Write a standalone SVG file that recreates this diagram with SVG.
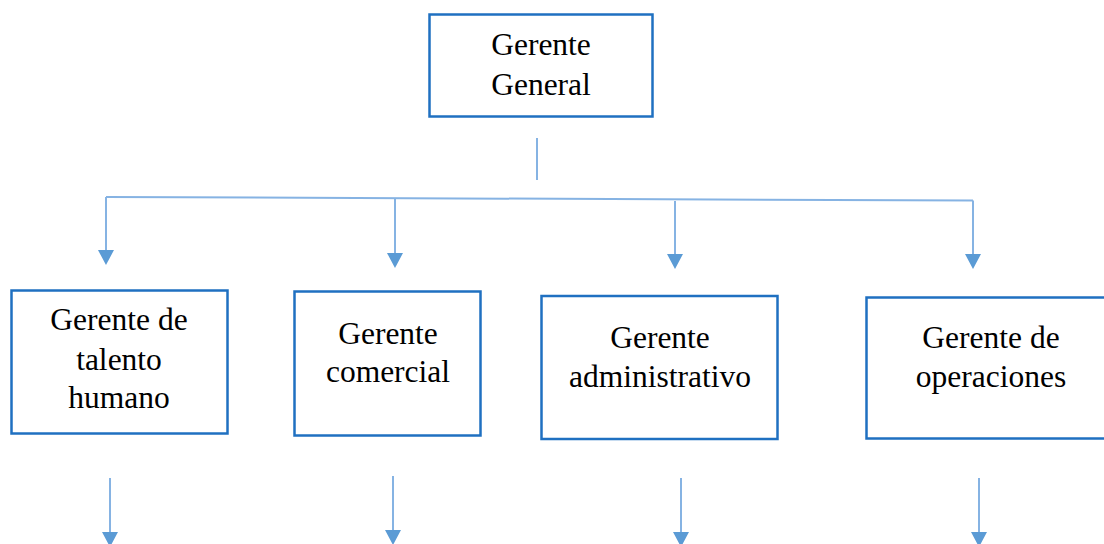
<svg xmlns="http://www.w3.org/2000/svg" width="1104" height="544" viewBox="0 0 1104 544">
<style>
.box{fill:#fff;stroke:#1F70C1;stroke-width:2.5}
.lbl{font-family:"Liberation Serif","Times New Roman",serif;font-size:31.5px;fill:#000;text-anchor:middle}
.con{stroke:#86B3E3;stroke-width:2;fill:none}
</style>
<defs>
<marker id="ah" markerUnits="userSpaceOnUse" markerWidth="15" markerHeight="16" viewBox="0 0 15 16" refX="0" refY="8" orient="auto">
<path d="M0,0 L15,8 L0,16 Z" fill="#5B9BD5"/>
</marker>
</defs>
<rect width="1104" height="544" fill="#fff"/>
<g id="connectors">
<line class="con" x1="537" y1="138" x2="537" y2="180"/>
<line class="con" x1="106" y1="197" x2="973" y2="200.5"/>
<line class="con" x1="106" y1="197" x2="106" y2="250" marker-end="url(#ah)"/>
<line class="con" x1="395" y1="198" x2="395" y2="253" marker-end="url(#ah)"/>
<line class="con" x1="675" y1="201" x2="675" y2="254" marker-end="url(#ah)"/>
<line class="con" x1="973" y1="200.5" x2="973" y2="254" marker-end="url(#ah)"/>
<line class="con" x1="110" y1="478" x2="110" y2="532" marker-end="url(#ah)"/>
<line class="con" x1="393" y1="476" x2="393" y2="530" marker-end="url(#ah)"/>
<line class="con" x1="681" y1="478" x2="681" y2="532" marker-end="url(#ah)"/>
<line class="con" x1="979" y1="478" x2="979" y2="532" marker-end="url(#ah)"/>
</g>
<g id="gerente-general">
<rect class="box" x="429.5" y="14.5" width="223" height="102"/>
<text class="lbl" x="541" y="55">Gerente</text>
<text class="lbl" x="541" y="95">General</text>
</g>
<g id="gerente-talento-humano">
<rect class="box" x="11.5" y="290.5" width="216" height="143"/>
<text class="lbl" x="119" y="330">Gerente de</text>
<text class="lbl" x="119" y="370">talento</text>
<text class="lbl" x="119" y="408">humano</text>
</g>
<g id="gerente-comercial">
<rect class="box" x="294.5" y="291.5" width="186" height="144"/>
<text class="lbl" x="388" y="344">Gerente</text>
<text class="lbl" x="388" y="382">comercial</text>
</g>
<g id="gerente-administrativo">
<rect class="box" x="541.5" y="296" width="236" height="143"/>
<text class="lbl" x="660" y="348">Gerente</text>
<text class="lbl" x="660" y="387">administrativo</text>
</g>
<g id="gerente-operaciones">
<rect class="box" x="866.5" y="297.5" width="250" height="141"/>
<text class="lbl" x="991" y="348">Gerente de</text>
<text class="lbl" x="991" y="387">operaciones</text>
</g>
</svg>
